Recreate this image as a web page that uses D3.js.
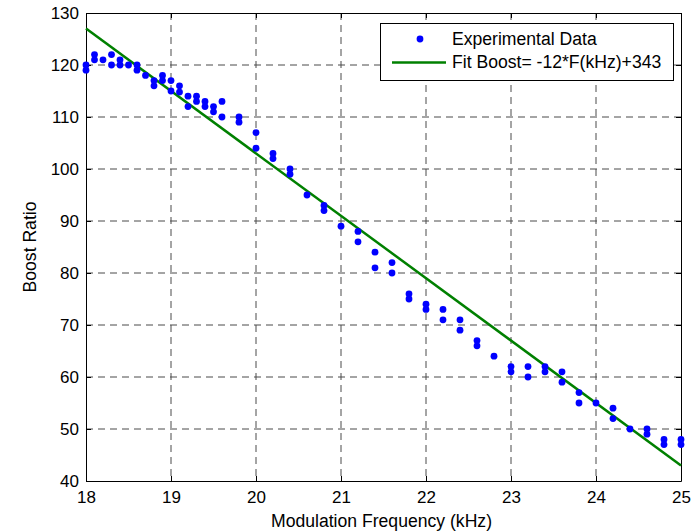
<!DOCTYPE html>
<html>
<head>
<meta charset="utf-8">
<script src="https://cdn.jsdelivr.net/npm/d3@7"></script>
<style>
  html, body { margin: 0; padding: 0; background: #fff; }
  svg { display: block; }
  text { font-family: "Liberation Sans", Arial, sans-serif; fill: #000; }
</style>
</head>
<body>
<svg id="chart" width="694" height="531"></svg>
<script>
// ---- data ----
const expFreq = [
  18.0, 18.0, 18.1, 18.1, 18.2, 18.3, 18.3, 18.4, 18.4, 18.5, 18.6, 18.6,
  18.7, 18.8, 18.8, 18.9, 18.9, 19.0, 19.0, 19.1, 19.1, 19.2, 19.2, 19.3, 19.3,
  19.4, 19.4, 19.5, 19.5, 19.6, 19.6, 19.8, 19.8, 20.0, 20.0, 20.2, 20.2,
  20.4, 20.4, 20.6, 20.8, 20.8, 21.0, 21.2, 21.2, 21.4, 21.4, 21.6, 21.6,
  21.8, 21.8, 22.0, 22.0, 22.2, 22.2, 22.4, 22.4, 22.6, 22.6, 22.8,
  23.0, 23.0, 23.2, 23.2, 23.4, 23.4, 23.6, 23.6, 23.8, 23.8, 24.0,
  24.2, 24.2, 24.4, 24.6, 24.6, 24.8, 24.8, 25.0, 25.0
];
const expBoost = [
  120, 119, 122, 121, 121, 122, 120, 121, 120, 120, 120, 119,
  118, 117, 116, 118, 117, 117, 115, 116, 114.8, 114, 112, 114, 113,
  113, 112, 112, 111, 113, 110, 110, 109, 107, 104, 103, 102,
  100, 99, 95, 93, 92, 89, 88, 86, 84, 81, 82, 80,
  76, 75, 74, 73, 73, 71, 71, 69, 67, 66, 64,
  62, 61, 62, 60, 62, 61, 61, 59, 57, 55, 55,
  54, 52, 50, 50, 49, 48, 47, 48, 47
];
const fitSlope = -12, fitIntercept = 343;
const fitFreq = [18, 25];
const xTicks = [18, 19, 20, 21, 22, 23, 24, 25];
const yTicks = [40, 50, 60, 70, 80, 90, 100, 110, 120, 130];
const legendLabels = ["Experimental Data", "Fit Boost= -12*F(kHz)+343"];
const xTitle = "Modulation Frequency (kHz)";
const yTitle = "Boost Ratio";

// ---- layout ----
const FS = 17, FT = 17.6;
const svg = d3.select("#chart");
const L = 86, R = 681, T = 13, B = 481;
const x = d3.scaleLinear().domain([18, 25]).range([L, R]);
const y = d3.scaleLinear().domain([40, 130]).range([B, T]);

// grid
const grid = svg.append("g");
grid.selectAll("line.vx").data(xTicks.slice(1, -1)).enter().append("line")
  .attr("x1", d => x(d)).attr("x2", d => x(d)).attr("y1", T).attr("y2", B)
  .attr("stroke", "#4a4a4a").attr("stroke-width", 1).attr("stroke-dasharray", "7,5");
grid.selectAll("line.hy").data(yTicks.slice(1, -1)).enter().append("line")
  .attr("x1", L).attr("x2", R).attr("y1", d => y(d)).attr("y2", d => y(d))
  .attr("stroke", "#4a4a4a").attr("stroke-width", 1).attr("stroke-dasharray", "7,5");

// axes
const fmt = d3.format("d");
svg.append("g").attr("transform", `translate(0,${B})`)
  .call(d3.axisBottom(x).tickValues(xTicks).tickFormat(fmt).tickSizeInner(-5).tickSizeOuter(0).tickPadding(10));
svg.append("g").attr("transform", `translate(${L},0)`)
  .call(d3.axisLeft(y).tickValues(yTicks).tickFormat(fmt).tickSizeInner(-5).tickSizeOuter(0).tickPadding(7));
svg.append("g").attr("transform", `translate(0,${T})`)
  .call(d3.axisTop(x).tickValues(xTicks).tickFormat("").tickSizeInner(-5).tickSizeOuter(0));
svg.append("g").attr("transform", `translate(${R},0)`)
  .call(d3.axisRight(y).tickValues(yTicks).tickFormat("").tickSizeInner(-5).tickSizeOuter(0));
svg.selectAll(".domain").attr("stroke", "#000").attr("stroke-width", 1);
svg.selectAll(".tick line").attr("stroke", "#000");
svg.selectAll(".tick text").attr("font-size", FS).attr("font-family", "'Liberation Sans', Arial, sans-serif").attr("fill", "#000");

// fit line
svg.append("path")
  .datum(fitFreq)
  .attr("d", d3.line().x(d => x(d)).y(d => y(fitSlope * d + fitIntercept)))
  .attr("fill", "none").attr("stroke", "#008000").attr("stroke-width", 2.5);

// points
svg.append("g").selectAll("circle").data(expFreq.map((f, i) => [f, expBoost[i]])).enter()
  .append("circle")
  .attr("cx", d => x(d[0])).attr("cy", d => y(d[1])).attr("r", 3.4)
  .attr("fill", "#0000ff");

// titles
svg.append("text").attr("x", (L + R) / 2 - 2).attr("y", 527).attr("text-anchor", "middle")
  .attr("font-size", FT).text(xTitle);
svg.append("text").attr("transform", `translate(36,${(T + B) / 2}) rotate(-90)`)
  .attr("text-anchor", "middle").attr("font-size", FT).text(yTitle);

// legend
const lg = svg.append("g");
lg.append("rect").attr("x", 380.5).attr("y", 23.5).attr("width", 293).attr("height", 57)
  .attr("fill", "#fff").attr("stroke", "#000").attr("stroke-width", 1);
lg.append("circle").attr("cx", 420).attr("cy", 39).attr("r", 3.4).attr("fill", "#0000ff");
lg.append("line").attr("x1", 392).attr("x2", 446).attr("y1", 62.5).attr("y2", 62.5)
  .attr("stroke", "#008000").attr("stroke-width", 2.5);
lg.append("text").attr("x", 452).attr("y", 45).attr("font-size", FT).text(legendLabels[0]);
lg.append("text").attr("x", 452).attr("y", 68).attr("font-size", FT).text(legendLabels[1]);
</script>
</body>
</html>
